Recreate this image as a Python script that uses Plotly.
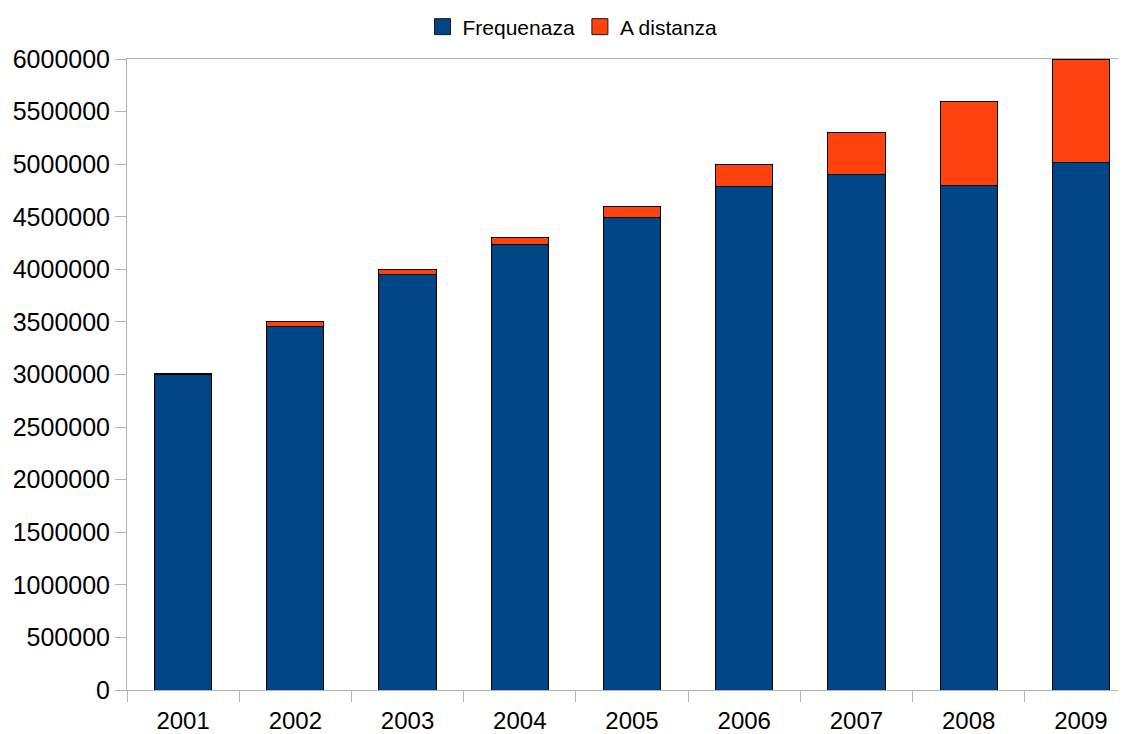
import plotly.graph_objects as go

years = ["2001", "2002", "2003", "2004", "2005", "2006", "2007", "2008", "2009"]
frequenza = [3000000, 3460000, 3950000, 4240000, 4490000, 4790000, 4900000, 4800000, 5020000]
a_distanza = [5000, 40000, 50000, 60000, 110000, 210000, 400000, 800000, 980000]

names = ["Frequenaza", "A distanza"]
colors = ["#004586", "#ff420e"]

fig = go.Figure()
for vals, nm, col in zip([frequenza, a_distanza], names, colors):
    fig.add_trace(go.Bar(x=years, y=vals, name=nm, showlegend=False,
                         marker=dict(color=col, line=dict(color="#000000", width=1))))
# legend entries with larger square swatches
for nm, col in zip(names, colors):
    fig.add_trace(go.Scatter(x=[None], y=[None], mode="markers", name=nm,
                             marker=dict(symbol="square", size=22, color=col,
                                         line=dict(color="#1a1a1a", width=1))))

fig.update_layout(
    barmode="stack",
    bargap=0.49,
    width=1129, height=740,
    margin=dict(l=119, r=0, t=51, b=58, pad=0, autoexpand=False),
    paper_bgcolor="white", plot_bgcolor="white",
    font=dict(family="Liberation Sans, Arial, sans-serif", size=24, color="#000000"),
    legend=dict(orientation="h", xref="container", x=0.5, xanchor="center",
                yref="container", y=1 - 19 / 740, yanchor="middle",
                font=dict(size=21), traceorder="normal"),
)
fig.update_xaxes(
    showline=True, linecolor="#b3b3b3", linewidth=1, mirror=True,
    ticks="outside", tickson="boundaries", ticklen=11, tickcolor="#b3b3b3",
    showgrid=False, tickfont=dict(size=24), ticklabelstandoff=9, automargin=False,
)
fig.update_yaxes(
    range=[0, 6000000], dtick=500000, tickformat="d",
    showline=True, linecolor="#b3b3b3", linewidth=1,
    ticks="outside", ticklen=11, tickcolor="#b3b3b3",
    showgrid=False, zeroline=False, tickfont=dict(size=25), automargin=False,
)

fig.write_html("out.html")
